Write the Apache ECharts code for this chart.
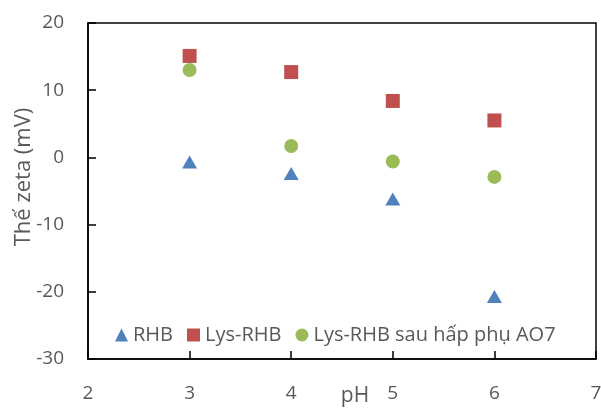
<!DOCTYPE html>
<html lang="vi">
<head>
    <meta charset="UTF-8">
    <title>Thế zeta theo pH</title>
    <script src="https://cdn.jsdelivr.net/npm/echarts@6/dist/echarts.min.js"></script>
    <style>
        html, body { margin: 0; padding: 0; background: #fff; }
        #chart { width: 601px; height: 409px; }
    </style>
</head>
<body>
<div id="chart"></div>
<script type="text/javascript">
    // pH values
    const phValues = [3, 4, 5, 6];
    // zeta potential (mV)
    const rhb = [-0.7, -2.4, -6.2, -20.7];
    const lysRhb = [15.1, 12.7, 8.4, 5.5];
    const lysRhbAo7 = [13.0, 1.7, -0.6, -2.9];
    const seriesNames = ['RHB', 'Lys-RHB', 'Lys-RHB sau hấp phụ AO7'];

    const font = 'Open Sans';
    const grey = '#595959';

    function pairs(ys) {
        return phValues.map((x, i) => [x, ys[i]]);
    }

    let myChart = echarts.init(document.getElementById('chart'));
    myChart.setOption({
        animation: false,
        textStyle: { fontFamily: font },
        grid: {
            left: 88, right: 5, top: 23, bottom: 50,
            outerBoundsMode: 'none',
            show: true, borderColor: '#000', borderWidth: 1.5
        },
        legend: {
            left: 110, top: 320,
            itemGap: 14, itemWidth: 13, itemHeight: 13,
            textStyle: { color: grey, fontSize: 20, fontFamily: font },
            data: [
                { name: seriesNames[0], icon: 'triangle' },
                { name: seriesNames[1], icon: 'rect' },
                { name: seriesNames[2], icon: 'circle' }
            ]
        },
        xAxis: {
            type: 'value', min: 2, max: 7, interval: 1,
            name: 'pH', nameLocation: 'middle', nameGap: 27, nameMoveOverlap: false,
            nameTextStyle: { color: grey, fontSize: 21, padding: [0, 0, 0, 26] },
            axisLine: { onZero: false, lineStyle: { color: '#000', width: 1.5 } },
            axisTick: { inside: true, length: 8, lineStyle: { color: '#000', width: 1.5 } },
            axisLabel: { color: grey, fontSize: 19, margin: 25 },
            splitLine: { show: false }
        },
        yAxis: {
            type: 'value', min: -30, max: 20, interval: 10,
            name: 'Thế zeta (mV)', nameLocation: 'middle', nameGap: 53, nameMoveOverlap: false,
            nameTextStyle: { color: grey, fontSize: 22, padding: [0, 0, 0, 28] },
            axisLine: { show: true, onZero: false, lineStyle: { color: '#000', width: 1.5 } },
            axisTick: { show: true, inside: true, length: 8, lineStyle: { color: '#000', width: 1.5 } },
            axisLabel: { color: grey, fontSize: 19, margin: 24 },
            splitLine: { show: false }
        },
        series: [
            {
                name: seriesNames[0], type: 'scatter', symbol: 'triangle', symbolSize: [15, 13],
                itemStyle: { color: '#4F81BD', opacity: 1 }, data: pairs(rhb)
            },
            {
                name: seriesNames[1], type: 'scatter', symbol: 'rect', symbolSize: 14,
                itemStyle: { color: '#C0504D', opacity: 1 }, data: pairs(lysRhb)
            },
            {
                name: seriesNames[2], type: 'scatter', symbol: 'circle', symbolSize: 14,
                itemStyle: { color: '#9BBB59', opacity: 1 }, data: pairs(lysRhbAo7)
            }
        ]
    });
</script>
</body>
</html>
